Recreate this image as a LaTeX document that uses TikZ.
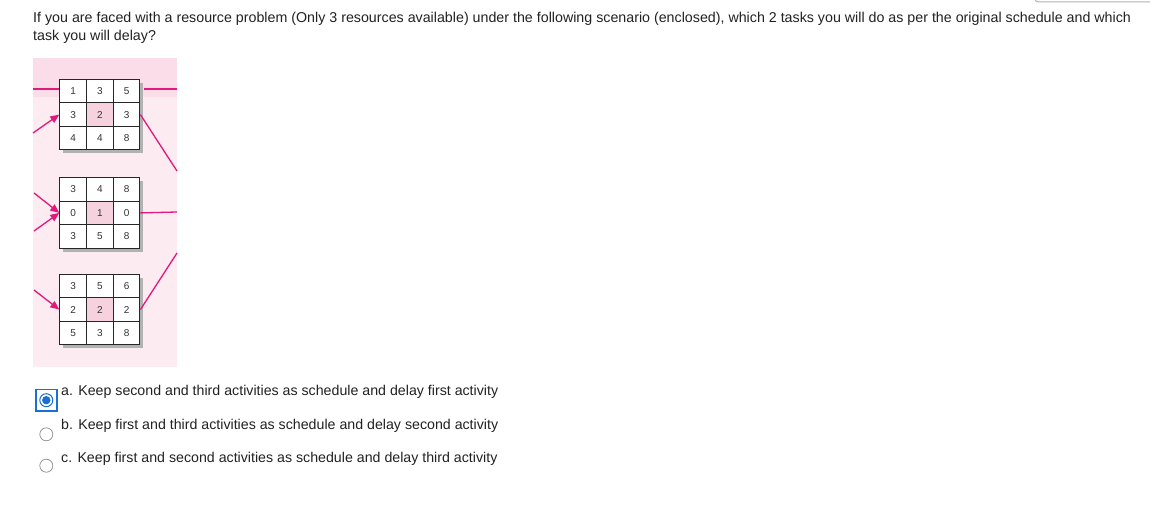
\documentclass[tikz,border=0pt]{standalone}
\usepackage{fontspec}
\setmainfont{Liberation Sans}
\usetikzlibrary{arrows.meta}
\definecolor{panelpink}{HTML}{FCEBF1}
\definecolor{panelpinktop}{HTML}{FADDE8}
\definecolor{cellpink}{HTML}{F6D2DF}
\definecolor{mag}{HTML}{E0197A}
\definecolor{selblue}{HTML}{1A6FD6}
\definecolor{txt}{HTML}{222222}
\tikzset{
  cell/.style={draw=black!85, line width=1pt, minimum width=26.7pt, minimum height=23.4pt, inner sep=0pt, anchor=north west, font=\fontsize{10}{11}\selectfont, text=black!80},
  shadowbox/.style={fill=black!30, draw=none},
  link/.style={draw=mag, line width=1.3pt},
  linkarrow/.style={link, -{Triangle[length=9pt,width=7.5pt]}},
  qtext/.style={anchor=west, inner sep=0pt, font=\fontsize{14.25}{16}\selectfont, text=txt},
  otext/.style={anchor=west, inner sep=0pt, font=\fontsize{14.2}{16}\selectfont, text=txt},
  radio/.style={circle, draw=black!45, line width=0.7pt, minimum size=13pt, inner sep=0pt},
}
\newcommand{\makegrid}[4]{%
  \fill[shadowbox] (#2+4,#3+4) rectangle (#2+80.1+4,#3+70.2+4);
  \foreach \v [count=\i from 0] in {#4} {
    \pgfmathtruncatemacro{\r}{int(\i/3)}
    \pgfmathtruncatemacro{\c}{mod(\i,3)}
    \ifnum\i=4
      \node[cell, fill=cellpink] (#1-\i) at (#2+\c*26.7, #3+\r*23.4) {\v};
    \else
      \node[cell, fill=white] (#1-\i) at (#2+\c*26.7, #3+\r*23.4) {\v};
    \fi
  }
}
\begin{document}
\begin{tikzpicture}[x=1pt,y=-1pt]
\useasboundingbox (0,0) rectangle (1150,513);
\fill[white] (0,0) rectangle (1150,513);
% top-right fragment of a box edge
\draw[black!30, line width=1pt, rounded corners=3pt] (1035,-2) |- (1150,2);
% question
\node[qtext] (q1) at (33,19) {If you are faced with a resource problem (Only 3 resources available) under the following scenario (enclosed), which 2 tasks you will do as per the original schedule and which};
\node[qtext] (q2) at (33,36.5) {task you will delay?};
% panel
\fill[panelpink] (33,58) rectangle (177,367);
\fill[panelpinktop] (33,58) rectangle (177,97);
% grids
\makegrid{g1}{59.3}{79}{1,3,5,3,2,3,4,4,8}
\makegrid{g2}{59.3}{177.3}{3,4,8,0,1,0,3,5,8}
\makegrid{g3}{59.3}{274}{3,5,6,2,2,2,5,3,8}
% free ends of connectors
\coordinate (l1) at (33,89);
\coordinate (r1) at (177,89);
\coordinate (a1) at (33,133);
\coordinate (d1) at (177,171);
\coordinate (a2) at (34,193);
\coordinate (a3) at (34,231);
\coordinate (r2) at (177,212);
\coordinate (a4) at (34,290);
\coordinate (u3) at (177,253);
% connectors grid 1
\draw[link] (l1) -- (g1-0.west|-l1);
\draw[link] ([xshift=4pt]g1-2.east|-r1) -- (r1);
\draw[linkarrow] (a1) -- (g1-3.west);
\draw[link] (g1-5.east) -- (d1);
% grid 2
\draw[linkarrow] (a2) -- (g2-3.west);
\draw[linkarrow] (a3) -- (g2-3.west);
\draw[link] (g2-5.east) -- (r2);
% grid 3
\draw[linkarrow] (a4) -- (g3-3.west);
\draw[link] (g3-5.east) -- (u3);
% options
\draw[selblue, line width=1.6pt] (35.7,389.5) rectangle (57,410.7);
\node[circle, draw=selblue, line width=1pt, minimum size=13pt, inner sep=0pt, fill=white] (ra) at (46.3,400.2) {};
\fill[selblue] (ra.center) circle (4.2pt);
\node[radio] (rb) at (46.3,434.3) {};
\node[radio] (rc) at (46.3,465.7) {};
\node[otext] (oa) at (61,392) {a. Keep second and third activities as schedule and delay first activity};
\node[otext] (ob) at (61,425.5) {b. Keep first and third activities as schedule and delay second activity};
\node[otext] (oc) at (61,458.5) {c. Keep first and second activities as schedule and delay third activity};
\end{tikzpicture}
\end{document}
